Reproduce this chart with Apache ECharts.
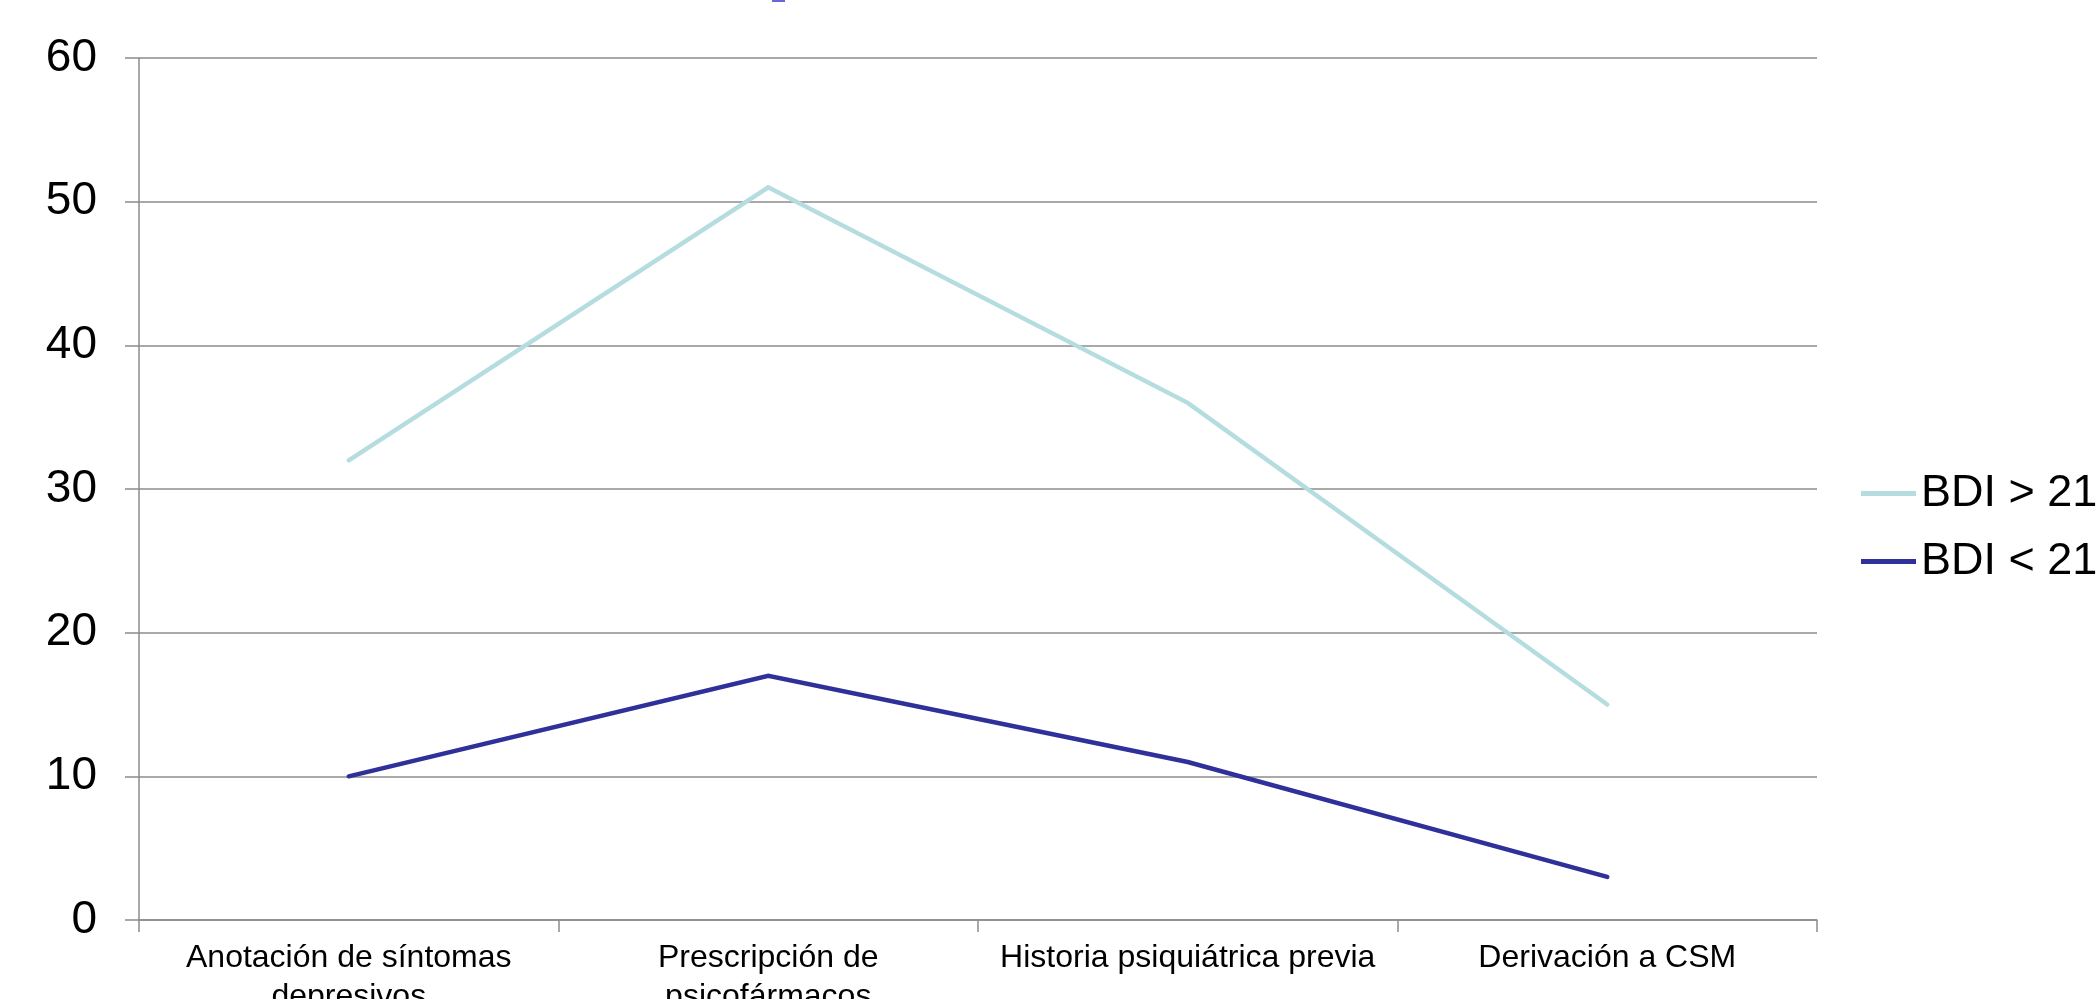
<!DOCTYPE html>
<html>
<head>
<meta charset="utf-8">
<script src="https://cdn.jsdelivr.net/npm/echarts@6/dist/echarts.min.js"></script>
<style>
  html, body { margin: 0; padding: 0; background: #ffffff; }
  #chart { width: 2099px; height: 999px; }
</style>
</head>
<body>
<div id="chart"></div>
<script>
// Categories along the x axis
const categories = [
  'Anotación de síntomas\ndepresivos',
  'Prescripción de\npsicofármacos',
  'Historia psiquiátrica previa',
  'Derivación a CSM'
];

// Series values
const seriesNames = ['BDI > 21', 'BDI < 21'];
const bdiHigh = [32, 51, 36, 15];
const bdiLow = [10, 17, 11, 3];

// Value axis range
const yMin = 0;
const yMax = 60;
const yStep = 10;

const FONT = "'Liberation Sans', Arial, sans-serif";
const AXIS_GRAY = '#8c8c8c';

const chart = echarts.init(document.getElementById('chart'), null, { renderer: 'canvas' });

chart.setOption({
  backgroundColor: '#ffffff',
  animation: false,
  grid: {
    left: 139, right: 282, top: 58, bottom: 79,
    containLabel: false,
    // keep the plot box fixed even though the wrapped labels run past the bottom edge
    outerBoundsMode: 'none'
  },
  legend: {
    orient: 'vertical',
    left: 1856,
    top: 466,
    icon: 'rect',
    itemWidth: 55,
    itemHeight: 5,
    itemGap: 23,
    textStyle: { fontFamily: FONT, fontSize: 45, lineHeight: 45, color: '#000000' },
    data: seriesNames
  },
  xAxis: {
    type: 'category',
    data: categories,
    boundaryGap: true,
    axisLine: { show: true, lineStyle: { color: AXIS_GRAY, width: 1.5 } },
    axisTick: { show: true, length: 12, interval: 0, lineStyle: { color: AXIS_GRAY, width: 1.5 } },
    axisLabel: {
      interval: 0,
      margin: 19,
      fontFamily: FONT,
      fontSize: 32,
      lineHeight: 39,
      color: '#000000'
    },
    splitLine: { show: false }
  },
  yAxis: {
    type: 'value',
    min: yMin,
    max: yMax,
    interval: yStep,
    axisLine: { show: true, lineStyle: { color: AXIS_GRAY, width: 1.5 } },
    axisTick: { show: true, length: 14, lineStyle: { color: AXIS_GRAY, width: 1.5 } },
    axisLabel: { margin: 42, fontFamily: FONT, fontSize: 46, color: '#000000' },
    splitLine: { show: true, lineStyle: { color: AXIS_GRAY, width: 1.5 } }
  },
  series: [
    {
      name: seriesNames[0],
      type: 'line',
      data: bdiHigh,
      symbol: 'none',
      color: '#b5dde0',
      lineStyle: { width: 4.5, color: '#b5dde0', cap: 'round', join: 'miter' }
    },
    {
      name: seriesNames[1],
      type: 'line',
      data: bdiLow,
      symbol: 'none',
      color: '#30309a',
      lineStyle: { width: 4.5, color: '#30309a', cap: 'round', join: 'miter' }
    }
  ],
  graphic: [
    // clipped edge of the slide heading above the plot
    { type: 'rect', left: 772, top: 0, shape: { width: 13, height: 2 }, style: { fill: '#6b66d6' } }
  ]
});
</script>
</body>
</html>
